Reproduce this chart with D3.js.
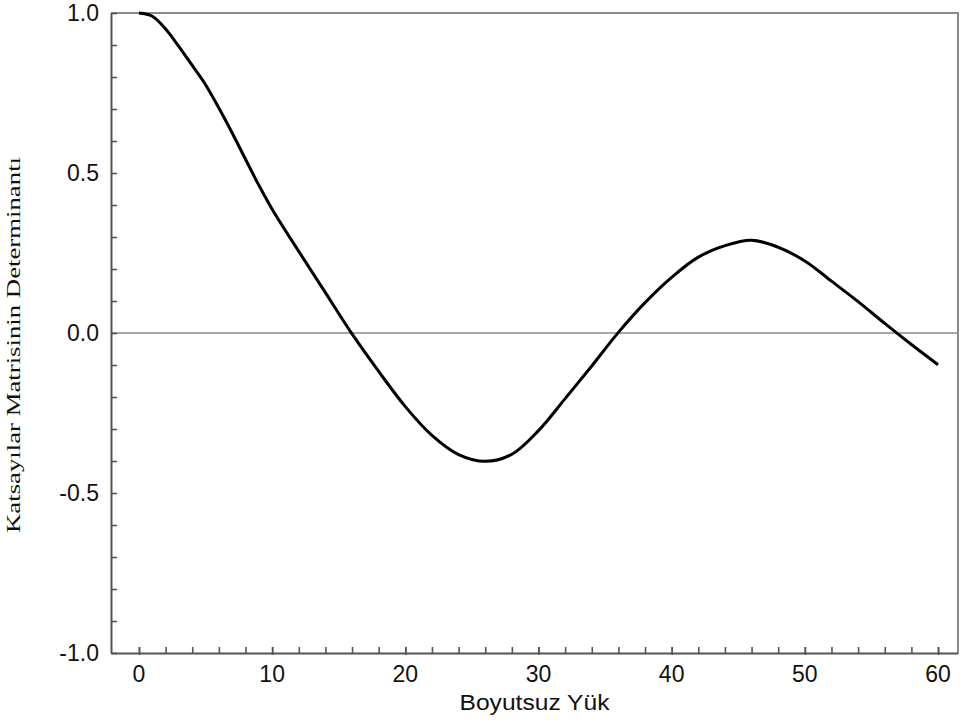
<!DOCTYPE html>
<html>
<head>
<meta charset="utf-8">
<script src="https://cdn.jsdelivr.net/npm/d3@7"></script>
<style>
body { margin: 0; background: #fff; }
svg { display: block; }
</style>
</head>
<body>
<script>
// values
var loadX = [0, 1, 2, 3, 4, 5, 6, 7, 8, 9, 10, 12, 14, 16, 18, 20, 22, 24, 26, 28,
             30, 32, 34, 36, 38, 40, 42, 44, 46, 48, 50, 52, 54, 56, 58, 60];
var detY = [1.0, 0.99, 0.95, 0.895, 0.836, 0.776, 0.703, 0.625, 0.543, 0.462, 0.387, 0.255,
            0.126, -0.003, -0.12, -0.23, -0.32, -0.38, -0.401, -0.379, -0.305, -0.205,
            -0.103, 0.002, 0.095, 0.174, 0.237, 0.273, 0.29, 0.268, 0.225, 0.162,
            0.098, 0.03, -0.036, -0.099];
var xTicks = [0, 10, 20, 30, 40, 50, 60];
var yTicks = [-1, -0.5, 0, 0.5, 1];
var yTickLabels = ["-1.0", "-0.5", "0.0", "0.5", "1.0"];
var xTitle = "Boyutsuz Yük";
var yTitle = "Katsayılar Matrisinin Determinantı";

var box = { left: 111, right: 958, top: 13, bottom: 653 };
var xScale = d3.scaleLinear().domain([-2.1, 61.5]).range([box.left, box.right]);
var yScale = d3.scaleLinear().domain([-1, 1]).range([box.bottom, box.top]);

var svg = d3.select("body").append("svg")
	.attr("width", 961)
	.attr("height", 722);

// zero line and the light frame on top/right
svg.append("line")
	.attr("x1", box.left).attr("x2", box.right)
	.attr("y1", yScale(0)).attr("y2", yScale(0))
	.style("stroke", "#8a8a8a").style("stroke-width", 1.6);
svg.append("path")
	.attr("d", "M" + box.left + "," + box.top + "H" + box.right + "V" + box.bottom)
	.style("fill", "none").style("stroke", "#8a8a8a").style("stroke-width", 2);

// left axis, ticks point inward
var yAxis = svg.append("g")
	.attr("transform", "translate(" + box.left + ",0)")
	.call(d3.axisRight(yScale).tickValues(d3.range(-10, 11).map(function(i) { return i / 10; }))
		.tickSize(6).tickSizeOuter(0).tickFormat(""));
// bottom axis: minor every 2, major every 10 poking out a little
var xAxis = svg.append("g")
	.attr("transform", "translate(0," + box.bottom + ")")
	.call(d3.axisTop(xScale).tickValues(d3.range(0, 61, 2))
		.tickSize(6).tickSizeOuter(0).tickFormat(""));
var xMajor = svg.append("g")
	.attr("transform", "translate(0," + (box.bottom + 2) + ")")
	.call(d3.axisTop(xScale).tickValues(xTicks).tickSize(8).tickSizeOuter(0).tickFormat(""));
xMajor.select(".domain").remove();
[yAxis, xAxis, xMajor].forEach(function(g) {
	g.selectAll("line").style("stroke", "#555").style("stroke-width", 1.6);
	g.select(".domain").style("stroke", "#555").style("stroke-width", 2);
});

svg.append("g").selectAll("text").data(yTicks).enter().append("text")
	.attr("x", 99)
	.attr("y", function(d) { return yScale(d); })
	.attr("dy", "0.36em")
	.attr("text-anchor", "end")
	.style("font", "23px 'Liberation Sans', Arial, sans-serif")
	.style("fill", "#111")
	.text(function(d, i) { return yTickLabels[i]; });

svg.append("g").selectAll("text").data(xTicks).enter().append("text")
	.attr("x", function(d) { return xScale(d); })
	.attr("y", box.bottom + 29)
	.attr("text-anchor", "middle")
	.style("font", "23px 'Liberation Sans', Arial, sans-serif")
	.style("fill", "#111")
	.text(function(d) { return d; });

svg.append("text")
	.attr("x", (box.left + box.right) / 2)
	.attr("y", 710)
	.attr("text-anchor", "middle")
	.attr("textLength", 150)
	.attr("lengthAdjust", "spacingAndGlyphs")
	.style("font", "22px 'Liberation Sans', Arial, sans-serif")
	.style("fill", "#111")
	.text(xTitle);

svg.append("text")
	.attr("transform", "translate(20,345) rotate(-90)")
	.attr("text-anchor", "middle")
	.attr("textLength", 376)
	.attr("lengthAdjust", "spacingAndGlyphs")
	.style("font", "19px 'Liberation Serif', 'Times New Roman', serif")
	.style("fill", "#111")
	.text(yTitle);

// the curve itself
var line = d3.line()
	.x(function(d, i) { return xScale(loadX[i]); })
	.y(function(d) { return yScale(d); })
	.curve(d3.curveCatmullRom);
svg.append("path")
	.attr("d", line(detY))
	.style("fill", "none")
	.style("stroke", "#000")
	.style("stroke-width", 3);
</script>
</body>
</html>
